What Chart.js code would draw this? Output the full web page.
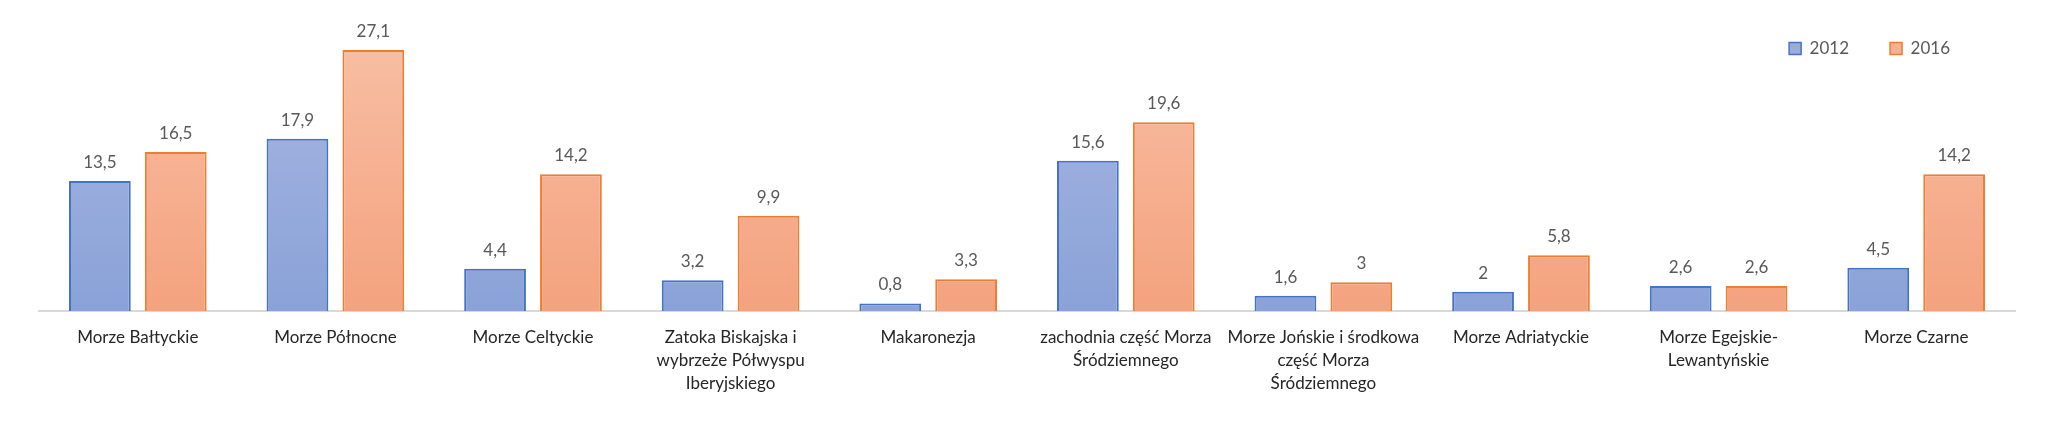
<!DOCTYPE html>
<html>
<head>
<meta charset="utf-8">
<script src="https://cdn.jsdelivr.net/npm/chart.js@4.4.1/dist/chart.umd.min.js"></script>
<style>
html,body{margin:0;padding:0;background:#fff;}
#wrap{width:2054px;height:423px;}
</style>
</head>
<body>
<div id="wrap"><canvas id="c" width="2054" height="423"></canvas></div>
<script>
const categories = [
  "Morze Bałtyckie",
  "Morze Północne",
  "Morze Celtyckie",
  ["Zatoka Biskajska i", "wybrzeże Półwyspu", "Iberyjskiego"],
  "Makaronezja",
  ["zachodnia część Morza", "Śródziemnego"],
  ["Morze Jońskie i środkowa", "część Morza", "Śródziemnego"],
  "Morze Adriatyckie",
  ["Morze Egejskie-", "Lewantyńskie"],
  "Morze Czarne"
];
const seriesNames = ["2012", "2016"];
const values2012 = [13.5, 17.9, 4.4, 3.2, 0.8, 15.6, 1.6, 2, 2.6, 4.5];
const values2016 = [16.5, 27.1, 14.2, 9.9, 3.3, 19.6, 3, 5.8, 2.6, 14.2];

const FONT = "Lato, 'Open Sans', sans-serif";

function grad(top, bottom, solid) {
  return function(ctx) {
    const chart = ctx.chart;
    const area = chart.chartArea;
    if (!area) return solid;
    const g = chart.ctx.createLinearGradient(0, area.top, 0, area.bottom);
    g.addColorStop(0, top);
    g.addColorStop(1, bottom);
    return g;
  };
}

const valueLabels = {
  id: 'valueLabels',
  afterDatasetsDraw(chart) {
    const ctx = chart.ctx;
    ctx.save();
    ctx.font = "17px " + FONT;
    ctx.fillStyle = "#595959";
    ctx.textAlign = "center";
    ctx.textBaseline = "bottom";
    chart.data.datasets.forEach((ds, di) => {
      const meta = chart.getDatasetMeta(di);
      meta.data.forEach((bar, i) => {
        const v = ds.data[i];
        ctx.fillText(String(v).replace('.', ','), bar.x, bar.y - 10);
      });
    });
    ctx.restore();
  }
};

// place the (space-less) legend in the upper right corner of the plot
const legendPlacer = {
  id: 'legendPlacer',
  afterLayout(chart) {
    const lg = chart.legend;
    if (!lg) return;
    const h = 60;
    lg.top = -1;
    lg.bottom = lg.top + h;
    lg.right = 1991;
    lg.left = 1600;
    lg.width = lg.right - lg.left;
    lg.height = h;
  }
};

new Chart(document.getElementById('c'), {
  type: 'bar',
  data: {
    labels: categories,
    datasets: [
      {
        label: seriesNames[0],
        data: values2012,
        backgroundColor: grad('#aab8e2', '#8aa2d8', '#9aaddd'),
        borderColor: '#4472c4',
        borderWidth: 2,
        categoryPercentage: 0.768,
        barPercentage: 0.814
      },
      {
        label: seriesNames[1],
        data: values2016,
        backgroundColor: grad('#f8c0a6', '#f4a27e', '#f6b192'),
        borderColor: '#ed7d31',
        borderWidth: 2,
        categoryPercentage: 0.768,
        barPercentage: 0.814
      }
    ]
  },
  options: {
    responsive: false,
    animation: false,
    layout: { padding: { top: 22, left: 39, right: 39, bottom: 13 } },
    plugins: {
      tooltip: { enabled: false },
      legend: {
        position: 'top',
        align: 'end',
        maxHeight: 0.01,
        labels: {
          boxWidth: 12,
          boxHeight: 12,
          padding: 41,
          color: '#595959',
          font: { size: 17, family: FONT },
          generateLabels(chart) {
            const fills = ['#9aaddd', '#f6b192'];
            const strokes = ['#4472c4', '#ed7d31'];
            return chart.data.datasets.map((ds, i) => ({
              text: ds.label,
              fillStyle: fills[i],
              strokeStyle: strokes[i],
              lineWidth: 1.5,
              fontColor: '#595959',
              datasetIndex: i,
              hidden: false
            }));
          }
        }
      }
    },
    scales: {
      x: {
        grid: { display: false, drawTicks: false },
        border: { display: true, color: '#d9d9d9', width: 2 },
        ticks: {
          color: '#262626',
          font: { size: 17, family: FONT, lineHeight: 1.35 },
          padding: 15,
          maxRotation: 0,
          autoSkip: false
        }
      },
      y: {
        display: false,
        min: 0,
        max: 30
      }
    }
  },
  plugins: [valueLabels, legendPlacer]
});
</script>
</body>
</html>
